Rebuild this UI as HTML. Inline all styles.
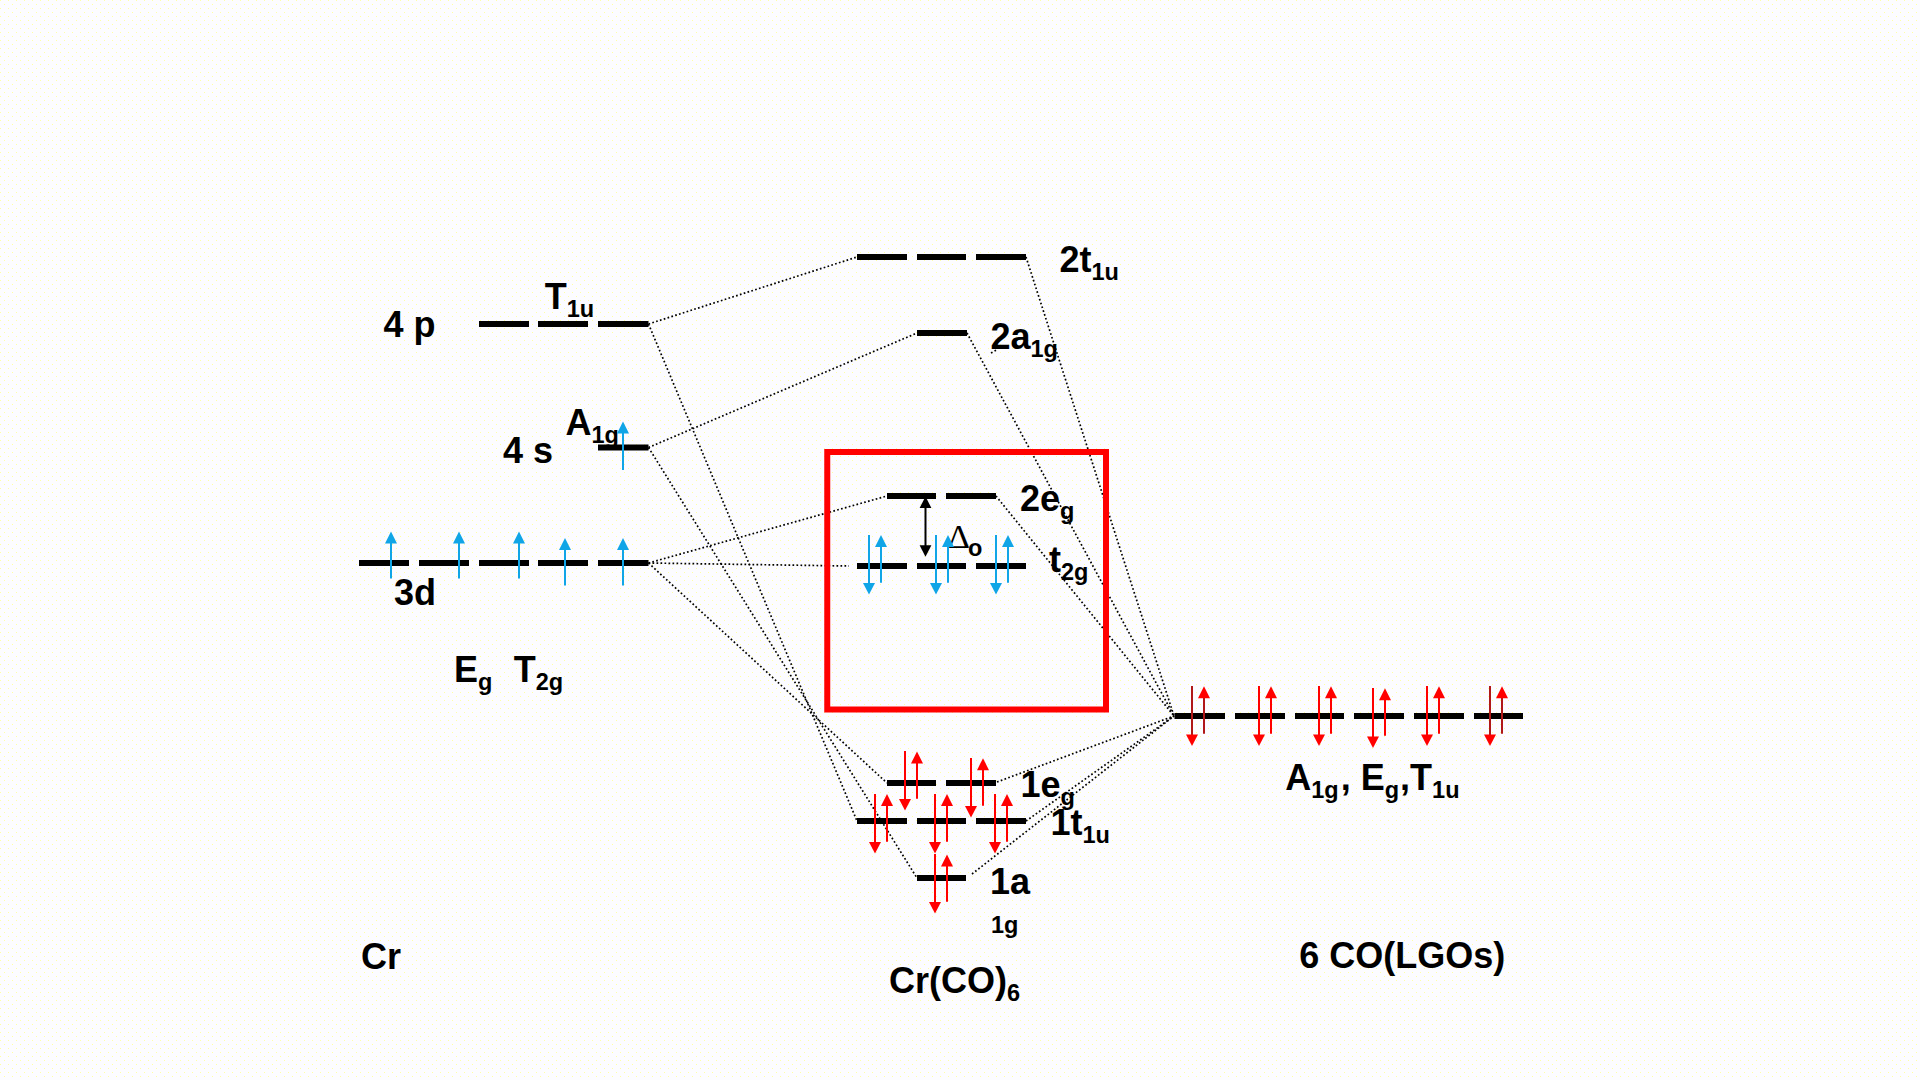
<!DOCTYPE html>
<html lang="en">
<head>
<meta charset="utf-8">
<title>Cr(CO)6 MO diagram</title>
<style>
html,body{margin:0;padding:0;width:1920px;height:1080px;overflow:hidden;background:#fcfcff}
svg{display:block}
.lb{font-family:"Liberation Sans",Arial,sans-serif;font-weight:bold;font-size:36px;fill:#000}
.sb{font-size:23.5px}
.dot{stroke:#000;stroke-width:1.7;stroke-dasharray:1.7 2.3;fill:none}
</style>
</head>
<body>
<svg width="1920" height="1080" viewBox="0 0 1920 1080">
<defs>
<pattern id="dith" x="0" y="0" width="8" height="8" patternUnits="userSpaceOnUse">
<rect x="0" y="0" width="1" height="1" fill="#ffffa3" shape-rendering="crispEdges"/>
<rect x="4" y="4" width="1" height="1" fill="#ffffa3" shape-rendering="crispEdges"/>
</pattern>
</defs>
<rect width="1920" height="1080" fill="#fcfcff"/>
<rect width="1920" height="1080" fill="url(#dith)"/>
<line x1="648.5" y1="324" x2="857" y2="257" class="dot"/>
<line x1="648.5" y1="447.5" x2="917" y2="333" class="dot"/>
<line x1="648.5" y1="563" x2="887" y2="496" class="dot"/>
<line x1="648.5" y1="563" x2="849" y2="566" class="dot"/>
<line x1="648.5" y1="563" x2="887" y2="783" class="dot"/>
<line x1="648.5" y1="447.5" x2="917" y2="878" class="dot"/>
<line x1="648.5" y1="324" x2="857" y2="821" class="dot"/>
<line x1="1026" y1="257" x2="1174" y2="716" class="dot"/>
<line x1="967" y1="333" x2="1174" y2="716" class="dot"/>
<line x1="996" y1="496" x2="1174" y2="716" class="dot"/>
<line x1="997" y1="782" x2="1174" y2="716" class="dot"/>
<line x1="1026" y1="821" x2="1174" y2="716" class="dot"/>
<line x1="972" y1="874" x2="1174" y2="716" class="dot"/>
<line x1="991" y1="353" x2="997.5" y2="349.5" class="dot"/>
<rect x="827.25" y="452" width="278.75" height="257.5" fill="none" stroke="#ff0000" stroke-width="6"/>
<rect x="479" y="321" width="50" height="6" fill="#000"/>
<rect x="538" y="321" width="50" height="6" fill="#000"/>
<rect x="598" y="321" width="50.5" height="6" fill="#000"/>
<rect x="598" y="444.5" width="50.5" height="6" fill="#000"/>
<rect x="359" y="560" width="50" height="6" fill="#000"/>
<rect x="419" y="560" width="50" height="6" fill="#000"/>
<rect x="479" y="560" width="50" height="6" fill="#000"/>
<rect x="538" y="560" width="50" height="6" fill="#000"/>
<rect x="598" y="560" width="50.5" height="6" fill="#000"/>
<rect x="857" y="254" width="50" height="6" fill="#000"/>
<rect x="917" y="254" width="49" height="6" fill="#000"/>
<rect x="976" y="254" width="50" height="6" fill="#000"/>
<rect x="917" y="330" width="50" height="6" fill="#000"/>
<rect x="887" y="493" width="49" height="6" fill="#000"/>
<rect x="946" y="493" width="50" height="6" fill="#000"/>
<rect x="857" y="563" width="50" height="6" fill="#000"/>
<rect x="917" y="563" width="49" height="6" fill="#000"/>
<rect x="976" y="563" width="50" height="6" fill="#000"/>
<rect x="887" y="780" width="49" height="6" fill="#000"/>
<rect x="946" y="780" width="50" height="6" fill="#000"/>
<rect x="857" y="818" width="50" height="6" fill="#000"/>
<rect x="917" y="818" width="49" height="6" fill="#000"/>
<rect x="976" y="818" width="50" height="6" fill="#000"/>
<rect x="917" y="875" width="49" height="6" fill="#000"/>
<rect x="1174.5" y="713" width="50.5" height="6" fill="#000"/>
<rect x="1235" y="713" width="50" height="6" fill="#000"/>
<rect x="1295" y="713" width="49" height="6" fill="#000"/>
<rect x="1354" y="713" width="50" height="6" fill="#000"/>
<rect x="1414" y="713" width="50" height="6" fill="#000"/>
<rect x="1474" y="713" width="49" height="6" fill="#000"/>
<text x="383.5" y="337" class="lb"><tspan dy="0">4 p</tspan></text>
<text x="544.7" y="308.5" class="lb"><tspan dy="0">T</tspan><tspan class="sb" dy="8">1u</tspan></text>
<text x="503" y="462.5" class="lb"><tspan dy="0">4 s</tspan></text>
<text x="565.5" y="435" class="lb"><tspan dy="0">A</tspan><tspan class="sb" dy="8">1g</tspan></text>
<text x="394" y="604.5" class="lb"><tspan dy="0">3d</tspan></text>
<text x="454" y="682" class="lb"><tspan dy="0">E</tspan><tspan class="sb" dy="8">g</tspan><tspan dy="-8" x="513.7">T</tspan><tspan class="sb" dy="8">2g</tspan></text>
<text x="1059.5" y="271.7" class="lb"><tspan dy="0">2t</tspan><tspan class="sb" dy="8">1u</tspan></text>
<text x="990.5" y="349.2" class="lb"><tspan dy="0">2a</tspan><tspan class="sb" dy="8">1g</tspan></text>
<text x="1020" y="510.5" class="lb"><tspan dy="0">2e</tspan><tspan class="sb" dy="8">g</tspan></text>
<text x="1049" y="571.5" class="lb"><tspan dy="0">t</tspan><tspan class="sb" dy="8">2g</tspan></text>
<text x="1020.5" y="797.3" class="lb"><tspan dy="0">1e</tspan><tspan class="sb" dy="8">g</tspan></text>
<text x="1050.5" y="835.3" class="lb"><tspan dy="0">1t</tspan><tspan class="sb" dy="8">1u</tspan></text>
<text x="990" y="893.7" class="lb"><tspan dy="0">1a</tspan></text>
<text x="991" y="933.3" class="lb sb">1g</text>
<text x="1285.3" y="789.6" class="lb"><tspan dy="0">A</tspan><tspan class="sb" dy="8">1g</tspan><tspan dy="-8" dx="1.9">, E</tspan><tspan class="sb" dy="8">g</tspan><tspan dy="-8" dx="1.1">,T</tspan><tspan class="sb" dy="8">1u</tspan></text>
<text x="361" y="969.4" class="lb"><tspan dy="0">Cr</tspan></text>
<text x="889" y="993" class="lb"><tspan dy="0">Cr(CO)</tspan><tspan class="sb" dy="8">6</tspan></text>
<text x="1299.2" y="967.5" class="lb"><tspan dy="0">6 CO(LGOs)</tspan></text>
<text x="947.8" y="548" style="font-family:'Liberation Serif','DejaVu Serif',serif;font-size:34.5px" fill="#000">Δ</text>
<text x="968" y="555.5" class="lb sb">o</text>
<line x1="391" y1="542.4" x2="391" y2="578.5" stroke="#10a5e6" stroke-width="2"/>
<polygon points="391,531.4 385,543.4 397,543.4" fill="#10a5e6"/>
<line x1="459" y1="542.4" x2="459" y2="578.5" stroke="#10a5e6" stroke-width="2"/>
<polygon points="459,531.4 453,543.4 465,543.4" fill="#10a5e6"/>
<line x1="519" y1="542.4" x2="519" y2="578.5" stroke="#10a5e6" stroke-width="2"/>
<polygon points="519,531.4 513,543.4 525,543.4" fill="#10a5e6"/>
<line x1="565" y1="548.9" x2="565" y2="585.5" stroke="#10a5e6" stroke-width="2"/>
<polygon points="565,537.9 559,549.9 571,549.9" fill="#10a5e6"/>
<line x1="623" y1="548.9" x2="623" y2="585.5" stroke="#10a5e6" stroke-width="2"/>
<polygon points="623,537.9 617,549.9 629,549.9" fill="#10a5e6"/>
<line x1="623" y1="432.4" x2="623" y2="470" stroke="#10a5e6" stroke-width="2"/>
<polygon points="623,421.4 617,433.4 629,433.4" fill="#10a5e6"/>
<line x1="869" y1="535" x2="869" y2="583.9" stroke="#10a5e6" stroke-width="2"/>
<polygon points="869,594.4 863,582.9 875,582.9" fill="#10a5e6"/>
<line x1="881" y1="545.9" x2="881" y2="582.8" stroke="#10a5e6" stroke-width="2"/>
<polygon points="881,534.9 875,546.9 887,546.9" fill="#10a5e6"/>
<line x1="936" y1="535" x2="936" y2="583.9" stroke="#10a5e6" stroke-width="2"/>
<polygon points="936,594.4 930,582.9 942,582.9" fill="#10a5e6"/>
<line x1="948" y1="545.9" x2="948" y2="582.8" stroke="#10a5e6" stroke-width="2"/>
<polygon points="948,534.9 942,546.9 954,546.9" fill="#10a5e6"/>
<line x1="996" y1="535" x2="996" y2="583.9" stroke="#10a5e6" stroke-width="2"/>
<polygon points="996,594.4 990,582.9 1002,582.9" fill="#10a5e6"/>
<line x1="1008" y1="545.9" x2="1008" y2="582.8" stroke="#10a5e6" stroke-width="2"/>
<polygon points="1008,534.9 1002,546.9 1014,546.9" fill="#10a5e6"/>
<line x1="925.5" y1="505" x2="925.5" y2="549" stroke="#000" stroke-width="2"/>
<polygon points="925.5,496.5 919.6,508 931.4,508" fill="#000"/>
<polygon points="925.5,556.8 919.6,545.3 931.4,545.3" fill="#000"/>
<line x1="905" y1="751" x2="905" y2="799.9" stroke="#ff0000" stroke-width="2"/>
<polygon points="905,810.4 899,798.9 911,798.9" fill="#ff0000"/>
<line x1="917" y1="762.4" x2="917" y2="798.75" stroke="#ff0000" stroke-width="2"/>
<polygon points="917,751.4 911,763.4 923,763.4" fill="#ff0000"/>
<line x1="971" y1="758" x2="971" y2="806.9" stroke="#ff0000" stroke-width="2"/>
<polygon points="971,817.4 965,805.9 977,805.9" fill="#ff0000"/>
<line x1="983" y1="769.15" x2="983" y2="805.75" stroke="#ff0000" stroke-width="2"/>
<polygon points="983,758.15 977,770.15 989,770.15" fill="#ff0000"/>
<line x1="875" y1="794" x2="875" y2="842.9" stroke="#ff0000" stroke-width="2"/>
<polygon points="875,853.4 869,841.9 881,841.9" fill="#ff0000"/>
<line x1="887" y1="804.9" x2="887" y2="841.75" stroke="#ff0000" stroke-width="2"/>
<polygon points="887,793.9 881,805.9 893,805.9" fill="#ff0000"/>
<line x1="935" y1="794" x2="935" y2="842.9" stroke="#ff0000" stroke-width="2"/>
<polygon points="935,853.4 929,841.9 941,841.9" fill="#ff0000"/>
<line x1="947" y1="804.9" x2="947" y2="841.75" stroke="#ff0000" stroke-width="2"/>
<polygon points="947,793.9 941,805.9 953,805.9" fill="#ff0000"/>
<line x1="995" y1="794" x2="995" y2="842.9" stroke="#ff0000" stroke-width="2"/>
<polygon points="995,853.4 989,841.9 1001,841.9" fill="#ff0000"/>
<line x1="1007" y1="804.9" x2="1007" y2="841.75" stroke="#ff0000" stroke-width="2"/>
<polygon points="1007,793.9 1001,805.9 1013,805.9" fill="#ff0000"/>
<line x1="935" y1="854" x2="935" y2="902.9" stroke="#ff0000" stroke-width="2"/>
<polygon points="935,913.4 929,901.9 941,901.9" fill="#ff0000"/>
<line x1="947" y1="865.4" x2="947" y2="901.75" stroke="#ff0000" stroke-width="2"/>
<polygon points="947,854.4 941,866.4 953,866.4" fill="#ff0000"/>
<line x1="1192" y1="686" x2="1192" y2="735.4" stroke="#b01818" stroke-width="2"/>
<polygon points="1192,745.9 1186,734.4 1198,734.4" fill="#ff0000"/>
<line x1="1204" y1="697.15" x2="1204" y2="733.75" stroke="#b01818" stroke-width="2"/>
<polygon points="1204,686.15 1198,698.15 1210,698.15" fill="#ff0000"/>
<line x1="1259" y1="686" x2="1259" y2="735.4" stroke="#ff0000" stroke-width="2"/>
<polygon points="1259,745.9 1253,734.4 1265,734.4" fill="#ff0000"/>
<line x1="1271" y1="697.15" x2="1271" y2="733.75" stroke="#ff0000" stroke-width="2"/>
<polygon points="1271,686.15 1265,698.15 1277,698.15" fill="#ff0000"/>
<line x1="1319" y1="686" x2="1319" y2="735.4" stroke="#ff0000" stroke-width="2"/>
<polygon points="1319,745.9 1313,734.4 1325,734.4" fill="#ff0000"/>
<line x1="1331" y1="697.15" x2="1331" y2="733.75" stroke="#ff0000" stroke-width="2"/>
<polygon points="1331,686.15 1325,698.15 1337,698.15" fill="#ff0000"/>
<line x1="1373" y1="688" x2="1373" y2="737.4" stroke="#ff0000" stroke-width="2"/>
<polygon points="1373,747.9 1367,736.4 1379,736.4" fill="#ff0000"/>
<line x1="1385" y1="699.15" x2="1385" y2="735.75" stroke="#ff0000" stroke-width="2"/>
<polygon points="1385,688.15 1379,700.15 1391,700.15" fill="#ff0000"/>
<line x1="1427" y1="686" x2="1427" y2="735.4" stroke="#ff0000" stroke-width="2"/>
<polygon points="1427,745.9 1421,734.4 1433,734.4" fill="#ff0000"/>
<line x1="1439" y1="697.15" x2="1439" y2="733.75" stroke="#ff0000" stroke-width="2"/>
<polygon points="1439,686.15 1433,698.15 1445,698.15" fill="#ff0000"/>
<line x1="1490" y1="686" x2="1490" y2="735.4" stroke="#b01818" stroke-width="2"/>
<polygon points="1490,745.9 1484,734.4 1496,734.4" fill="#ff0000"/>
<line x1="1502" y1="697.15" x2="1502" y2="733.75" stroke="#b01818" stroke-width="2"/>
<polygon points="1502,686.15 1496,698.15 1508,698.15" fill="#ff0000"/>
</svg>
</body>
</html>
